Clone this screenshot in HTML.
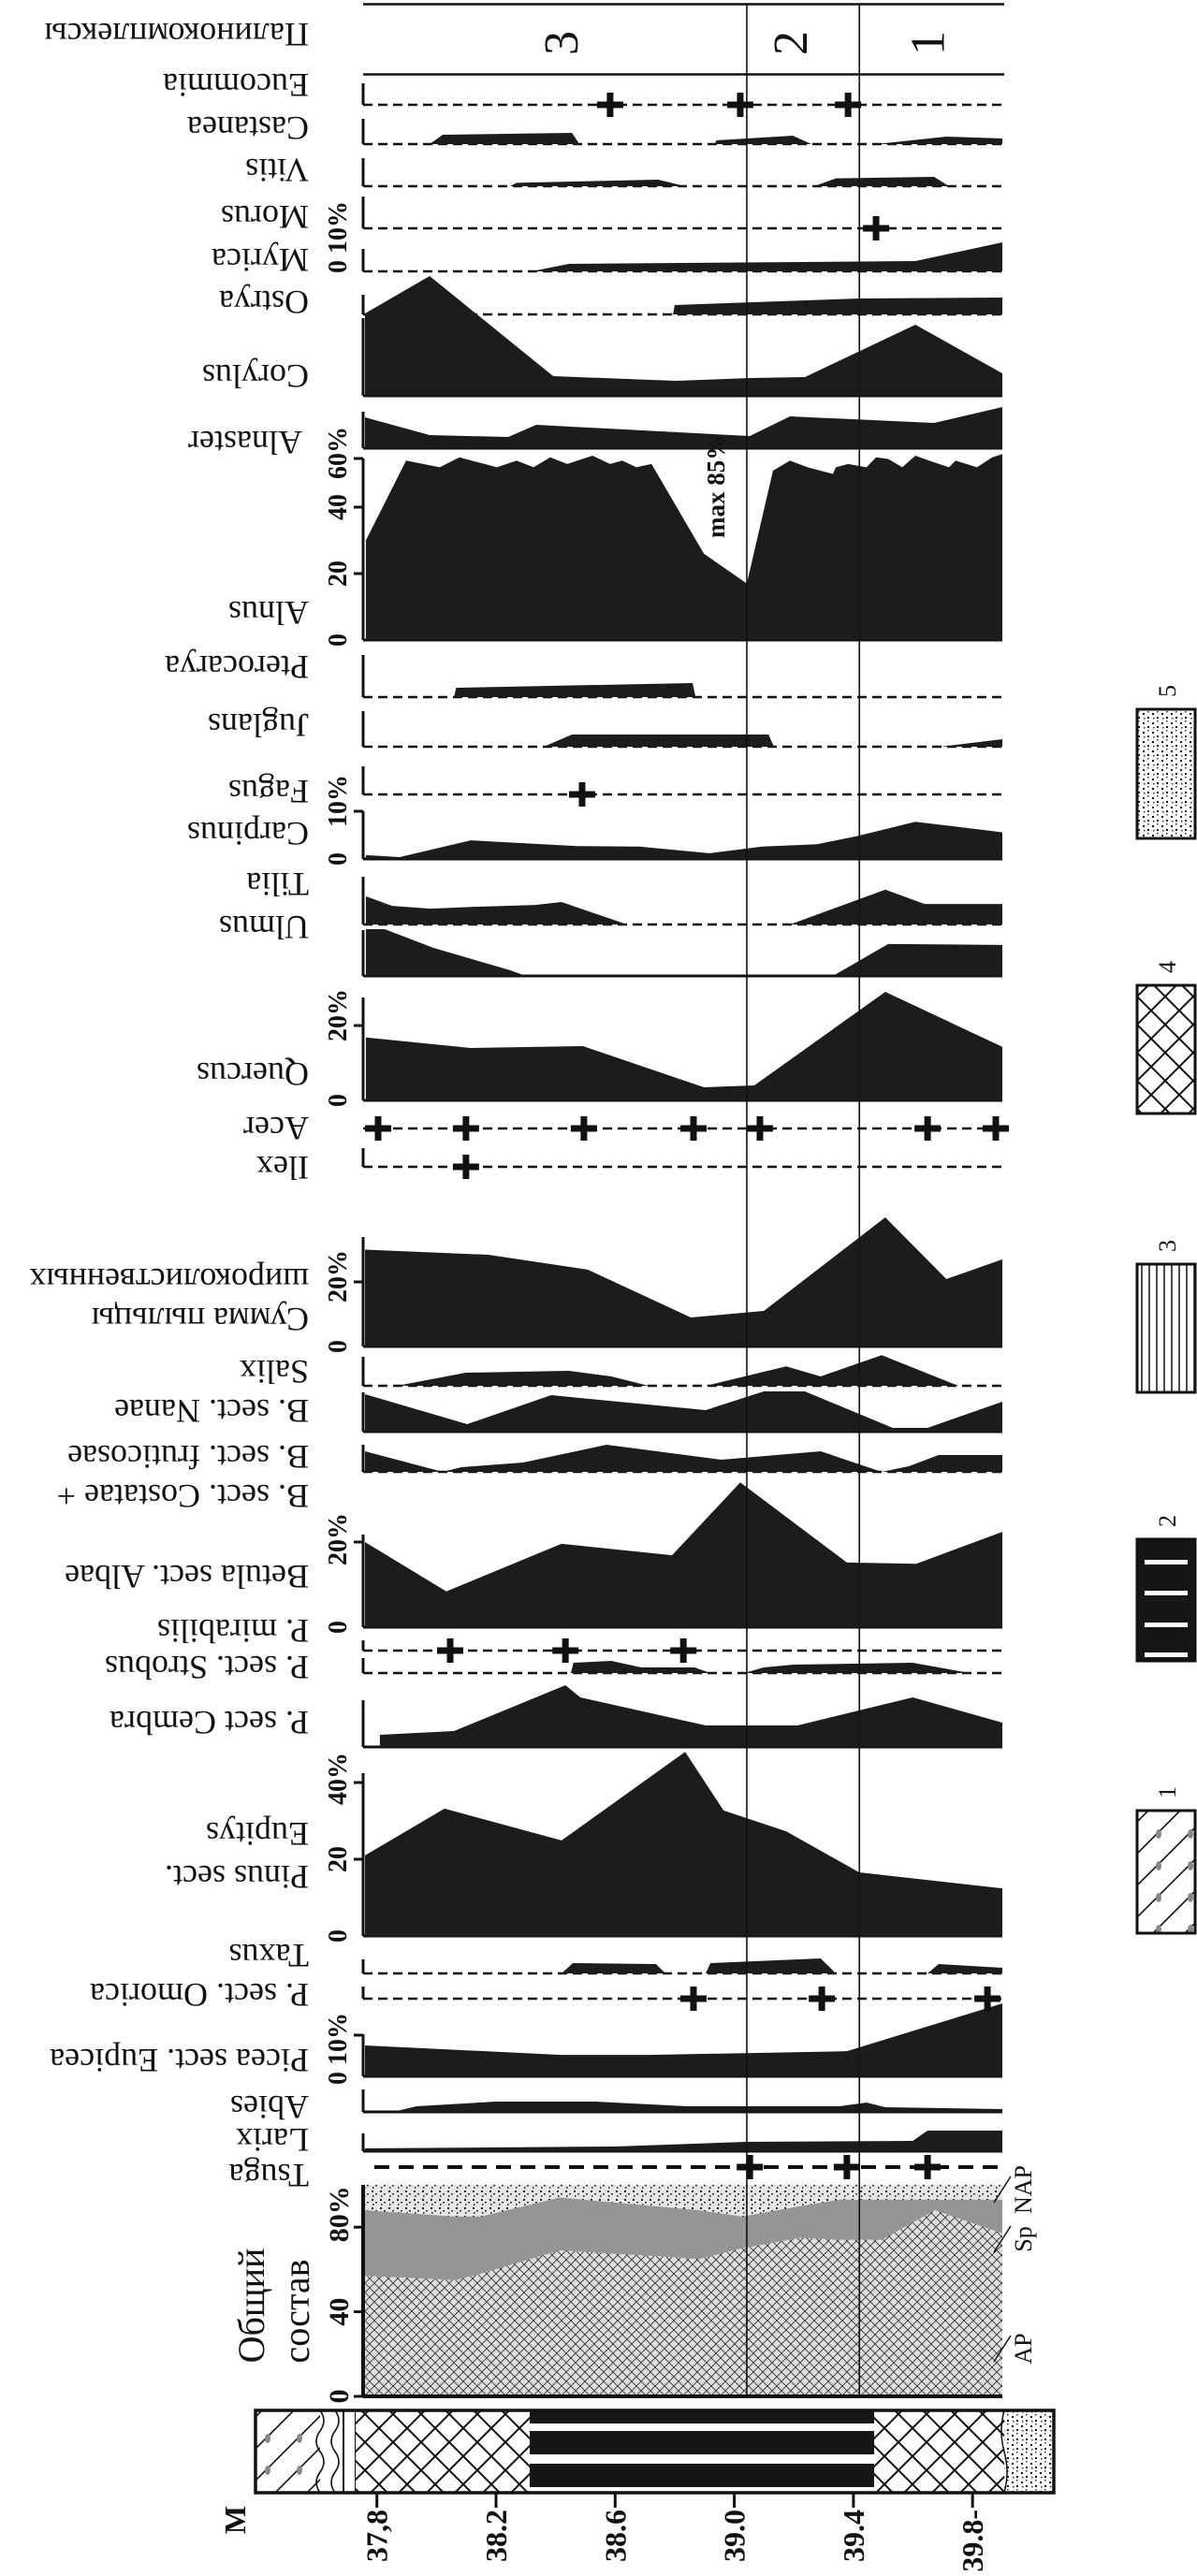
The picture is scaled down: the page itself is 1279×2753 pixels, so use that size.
<!DOCTYPE html>
<html><head><meta charset="utf-8"><title>Pollen diagram</title>
<style>
html,body{margin:0;padding:0;background:#fff;}
svg{display:block;}
text{font-family:"Liberation Serif","Noto Serif CJK SC",serif;fill:#111;}
</style></head>
<body>
<svg id="chart" xmlns="http://www.w3.org/2000/svg" width="1279" height="2753" viewBox="0 0 1279 2753">
<defs>
<pattern id="apPat" width="10" height="10" patternUnits="userSpaceOnUse">
<rect width="10" height="10" fill="#dedede"/>
<path d="M0,0 L10,10 M10,0 L0,10" stroke="#333" stroke-width="0.9"/>
</pattern>
<pattern id="napPat" width="9" height="9" patternUnits="userSpaceOnUse">
<rect width="9" height="9" fill="#e6e6e6"/>
<rect x="1" y="1" width="2" height="2" fill="#222"/><rect x="5" y="4" width="2" height="1.5" fill="#333"/><rect x="2" y="6" width="1.5" height="2" fill="#444"/>
</pattern>
<pattern id="xhPat" width="30" height="30" patternUnits="userSpaceOnUse">
<rect width="30" height="30" fill="#fff"/>
<path d="M0,0 L30,30 M30,0 L0,30" stroke="#111" stroke-width="2"/>
</pattern>
<pattern id="dotPat" width="10" height="10" patternUnits="userSpaceOnUse">
<rect width="10" height="10" fill="#fff"/>
<rect x="1" y="2" width="2" height="2" fill="#111"/><rect x="6" y="6" width="2" height="2" fill="#111"/><rect x="6" y="0" width="1.5" height="1.5" fill="#333"/><rect x="2" y="7" width="1.5" height="1.5" fill="#333"/>
</pattern>
<pattern id="diagPat" width="34" height="34" patternUnits="userSpaceOnUse">
<rect width="34" height="34" fill="#fff"/>
<path d="M0,34 L34,0 M-17,17 L17,-17 M17,51 L51,17" stroke="#111" stroke-width="1.6"/>
<ellipse cx="14" cy="22" rx="3" ry="5" fill="#888"/>
</pattern>
<pattern id="vlinePat" width="8" height="8" patternUnits="userSpaceOnUse">
<rect width="8" height="8" fill="#fff"/><path d="M4,0 L4,8" stroke="#111" stroke-width="1.5"/>
</pattern>
</defs>
<rect x="0" y="0" width="1279" height="2753" fill="#fff"/>
<g id="litho">
<rect x="273" y="2576" width="69" height="88" fill="url(#diagPat)"/>
<path d="M342,2576 q8,11 0,22 q-8,11 0,22 q8,11 0,22 q-8,11 0,22" stroke="#111" stroke-width="1.6" fill="none"/>
<path d="M358,2576 q8,11 0,22 q-8,11 0,22 q8,11 0,22 q-8,11 0,22" stroke="#111" stroke-width="1.6" fill="none"/>
<rect x="367" y="2576" width="13" height="88" fill="#fff" stroke="#111" stroke-width="2"/>
<rect x="380" y="2576" width="186" height="88" fill="url(#xhPat)"/>
<rect x="566" y="2576" width="368" height="88" fill="#161616"/>
<rect x="566" y="2590" width="368" height="8" fill="#fff"/>
<rect x="566" y="2623" width="368" height="10" fill="#fff"/>
<rect x="566" y="2658" width="368" height="6" fill="#fff"/>
<rect x="934" y="2576" width="139" height="88" fill="url(#xhPat)"/>
<rect x="1073" y="2576" width="53" height="88" fill="url(#dotPat)"/>
<path d="M1073,2576 q-6,22 0,44 q6,22 0,44" stroke="#111" stroke-width="1.5" fill="none"/>
<rect x="273" y="2576" width="853" height="88" fill="none" stroke="#111" stroke-width="3.5"/>
<text transform="translate(262,2693) rotate(-90)" text-anchor="middle" font-size="32" font-weight="bold">М</text>
</g>
<g id="legend">
<rect x="1215" y="758" width="62" height="138" fill="url(#dotPat)" stroke="#111" stroke-width="3"/>
<text transform="translate(1256,745) rotate(-90)" font-size="26">5</text>
<rect x="1215" y="1053" width="62" height="137" fill="url(#xhPat)" stroke="#111" stroke-width="3"/>
<text transform="translate(1256,1040) rotate(-90)" font-size="26">4</text>
<rect x="1215" y="1351" width="62" height="137" fill="url(#vlinePat)" stroke="#111" stroke-width="3"/>
<text transform="translate(1256,1338) rotate(-90)" font-size="26">3</text>
<rect x="1215" y="1645" width="62" height="130" fill="#161616" stroke="#111" stroke-width="3"/>
<rect x="1223" y="1667" width="46" height="5" fill="#fff"/>
<rect x="1223" y="1700" width="46" height="5" fill="#fff"/>
<rect x="1223" y="1734" width="46" height="5" fill="#fff"/>
<rect x="1223" y="1766" width="46" height="5" fill="#fff"/>
<text transform="translate(1256,1632) rotate(-90)" font-size="26">2</text>
<rect x="1215" y="1935" width="62" height="131" fill="url(#diagPat)" stroke="#111" stroke-width="3"/>
<text transform="translate(1256,1922) rotate(-90)" font-size="26">1</text>
</g>
<g id="plot"></g>
</svg>
<script>
// ---- depth axis ----
const depthTicks = [37.8, 38.2, 38.6, 39.0, 39.4, 39.8];
const depthTickLabels = ["37,8", "38.2", "38.6", "39.0", "39.4", "39.8-"];
const zoneBounds = [39.042, 39.42];
const zoneLabels = ["3", "2", "1"];
const zoneCenters = [38.42, 39.19, 39.65];

// ---- total composition (Общий состав) ----
const generalDepth = [37.76, 38.065, 38.15, 38.414, 38.882, 39.027, 39.224, 39.353, 39.495, 39.674, 39.9];
const apPct = [57, 55, 58, 69, 65, 70, 75, 74, 74, 88, 77];
const spPct = [31, 30, 27, 25, 23, 15, 15, 19, 19, 5, 16];

// ---- taxa ----
const castaneaDepth = [37.977, 38.021, 38.455, 38.48, 38.935, 38.94, 39.196, 39.259, 39.476, 39.712, 39.9];
const castaneaPct = [0, 2.5, 3, 0, 0, 1, 2.25, 0, 0, 2, 1.5];
const vitisDepth = [38.247, 38.269, 38.744, 38.835, 39.268, 39.341, 39.671, 39.721];
const vitisPct = [0, 0.9, 1.75, 0, 0, 2.1, 2.5, 0];
const myricaDepth = [38.319, 38.445, 39.608, 39.9];
const myricaPct = [0, 2, 2.75, 7.75];
const ostryaDepth = [38.794, 38.8, 39.42, 39.9];
const ostryaPct = [0, 2.5, 4.25, 4.5];
const corylusDepth = [37.76, 37.977, 38.392, 38.803, 39.052, 39.237, 39.608, 39.9];
const corylusPct = [22, 32, 5.25, 4, 4.75, 5, 19, 6];
const alnasterDepth = [37.76, 37.977, 38.241, 38.335, 39.052, 39.187, 39.671, 39.9];
const alnasterPct = [8.25, 3.5, 3, 6.25, 3.25, 8.5, 6.75, 11];
const alnusDepth = [37.763, 37.898, 38.011, 38.077, 38.203, 38.269, 38.326, 38.382, 38.439, 38.524, 38.583, 38.624, 38.671, 38.722, 38.898, 39.042, 39.13, 39.187, 39.246, 39.331, 39.341, 39.382, 39.444, 39.476, 39.517, 39.564, 39.608, 39.671, 39.721, 39.743, 39.815, 39.866, 39.9];
const alnusPct = [30, 54, 52, 55, 52, 54, 52, 55, 53, 55.5, 53, 54, 52, 53, 26, 17, 51, 54, 52, 50, 52, 53, 52, 55, 54.5, 52, 55.5, 53.5, 52, 54, 52, 55, 56];
const pterocaryaDepth = [38.059, 38.066, 38.86, 38.87];
const pterocaryaPct = [0, 2.5, 3.75, 0];
const juglansDepth = [38.36, 38.455, 39.115, 39.133, 39.693, 39.9];
const juglansPct = [0, 3.25, 3.25, 0, 0, 2];
const carpinusDepth = [37.763, 37.876, 38.115, 38.473, 38.681, 38.917, 39.093, 39.278, 39.413, 39.608, 39.9];
const carpinusPct = [0.8, 0.4, 3.9, 2.7, 2.6, 1.2, 2.6, 3.1, 4.8, 7.8, 5.6];
const tiliaDepth = [37.763, 37.851, 37.98, 38.125, 38.332, 38.42, 38.64, 39.187, 39.507, 39.639, 39.9];
const tiliaPct = [5.9, 3.9, 3.3, 3.7, 4.1, 4.7, 0, 0, 7.3, 4.3, 4.3];
const ulmusDepth = [37.763, 37.826, 37.989, 38.247, 38.3, 39.331, 39.517, 39.9];
const ulmusPct = [9.8, 9.8, 5.9, 1.2, 0, 0, 6.7, 6.5];
const quercusDepth = [37.763, 38.115, 38.492, 38.898, 39.067, 39.507, 39.9];
const quercusPct = [16.8, 14, 14.5, 3.5, 4, 29, 14.3];
const summaDepth = [37.76, 38.175, 38.508, 38.854, 39.099, 39.507, 39.712, 39.9];
const summaPct = [30, 28.4, 23.8, 9, 11, 40, 20.9, 27];
const salixDepth = [37.76, 37.867, 38.099, 38.445, 38.587, 38.712, 38.904, 39.174, 39.29, 39.495, 39.752, 39.9];
const salixPct = [0, 0, 3.5, 4, 2.5, 0, 0, 5.2, 2.5, 8.2, 0, 0];
const nanaeDepth = [37.76, 38.103, 38.385, 38.904, 39.099, 39.237, 39.532, 39.649, 39.9];
const nanaePct = [10, 2, 9.75, 5.75, 10.75, 10.75, 1, 1, 8];
const fruticosaeDepth = [37.76, 38.021, 38.084, 38.291, 38.571, 38.957, 39.29, 39.495, 39.586, 39.686, 39.9];
const fruticosaePct = [5.5, 0, 1.25, 2.5, 7.25, 3.25, 5.5, 0, 1.5, 4.5, 4.5];
const albaeDepth = [37.76, 38.033, 38.42, 38.791, 39.02, 39.378, 39.611, 39.9];
const albaePct = [20, 8.4, 19.6, 16.9, 34, 15.2, 14.9, 22.4];
const strobusDepth = [38.451, 38.46, 38.587, 38.687, 38.866, 38.92, 39.033, 39.099, 39.199, 39.599, 39.79];
const strobusPct = [0, 2.75, 3.25, 1.5, 1.5, 0, 0, 1.5, 2.25, 2.75, 0];
const cembraDepth = [37.81, 38.059, 38.433, 38.483, 38.904, 39.212, 39.599, 39.9];
const cembraPct = [3.25, 4.25, 16.5, 13.25, 5.75, 5.75, 13.25, 6.5];
const pinusDepth = [37.76, 38.027, 38.42, 38.835, 38.964, 39.174, 39.419, 39.9];
const pinusPct = [21, 33.2, 24.9, 48, 32.7, 27.3, 16.6, 12.4];
const taxusDepth = [38.42, 38.458, 38.737, 38.769, 38.904, 38.92, 39.29, 39.341, 39.649, 39.686, 39.9];
const taxusPct = [0, 2.75, 2.5, 0, 0, 2.75, 4, 0, 0, 2.5, 1.5];
const piceaDepth = [37.76, 38.42, 38.712, 39.378, 39.9];
const piceaPct = [7.5, 5.2, 5.2, 6.1, 17.7];
const abiesDepth = [37.76, 37.854, 37.933, 38.2, 38.533, 38.841, 39.353, 39.444, 39.507, 39.9];
const abiesPct = [0, 0, 1.5, 2.75, 2.75, 1.5, 1.5, 2.5, 1.25, 0.75];
const larixDepth = [37.76, 38.6, 39.04, 39.599, 39.649, 39.9];
const larixPct = [0.75, 1.25, 2.5, 2.75, 5.5, 5.5];

// ---- single-grain finds (+) ----
const eucommiaPlus = [38.583, 39.02, 39.382];
const morusPlus = [39.476];
const fagusPlus = [38.489];
const acerPlus = [37.804, 38.099, 38.495, 38.863, 39.086, 39.649, 39.878];
const ilexPlus = [38.099];
const mirabilisPlus = [38.046, 38.433, 38.829];
const omoricaPlus = [38.863, 39.294, 39.85];
const tsugaPlus = [39.052, 39.378, 39.649];

const NS = "http://www.w3.org/2000/svg";
const plot = document.getElementById("plot");
const X0 = 390, X1 = 1071, D0 = 37.76, D1 = 39.9, AX = 388;
function xs(d) { return X0 + (d - D0) * (X1 - X0) / (D1 - D0); }
function mk(tag, attrs) {
  const e = document.createElementNS(NS, tag);
  for (const k in attrs) e.setAttribute(k, attrs[k]);
  plot.appendChild(e);
  return e;
}

// general composition chart
const G0 = 2561, GK = 2.26;
function gy(p) { return G0 - p * GK; }
const napRect = mk("rect", {x: X0, y: gy(100), width: X1 - X0, height: 100 * GK, fill: "url(#napPat)"});


let spPts = generalDepth.map((d, i) => xs(d) + "," + gy(apPct[i] + spPct[i]));
let apTopRev = generalDepth.map((d, i) => xs(d) + "," + gy(apPct[i])).reverse();
const spPoly = mk("polygon", {points: spPts.concat(apTopRev).join(" "), fill: "#959595"});


let apPts = [xs(generalDepth[0]) + "," + G0].concat(generalDepth.map((d, i) => xs(d) + "," + gy(apPct[i]))).concat([xs(generalDepth[generalDepth.length - 1]) + "," + G0]);
const apPoly = mk("polygon", {points: apPts.join(" "), fill: "url(#apPat)"});


const gAxis = mk("line", {x1: AX, y1: gy(100), x2: AX, y2: G0, stroke: "#111", "stroke-width": 4});


const gBase = mk("line", {x1: AX, y1: G0, x2: X1, y2: G0, stroke: "#111", "stroke-width": 4});


const gTicks = [0, 40, 80];
const gTickText = ["0", "40", "80%"];
gTicks.forEach((v, i) => {
  const t = mk("line", {x1: AX - 10, y1: gy(v), x2: AX, y2: gy(v), stroke: "#111", "stroke-width": 3});
  
  
  const lb = mk("text", {transform: `translate(372,${gy(v) + (i === 2 ? 16 : 0)}) rotate(-90)`, "text-anchor": i === 2 ? "start" : "middle", "font-size": 30, "font-weight": "bold"});
  lb.textContent = gTickText[i];
  
  
});
const apLabels = [["NAP", 2340], ["Sp", 2393], ["AP", 2510]];
apLabels.forEach(a => {
  const t = mk("text", {transform: `translate(1102,${a[1]}) rotate(-90)`, "text-anchor": "middle", "font-size": 26});
  t.textContent = a[0];
  
  
  const s = mk("line", {x1: 1062, y1: a[1] + 14, x2: 1080, y2: a[1] - 14, stroke: "#111", "stroke-width": 1.5});
  
  
});
const title1 = mk("text", {transform: "translate(282,2464) rotate(-90)", "text-anchor": "middle", "font-size": 40});
title1.textContent = "Общий";


const title2 = mk("text", {transform: "translate(330,2470) rotate(-90)", "text-anchor": "middle", "font-size": 40});
title2.textContent = "состав";



// taxon area panels
const panels = [
  {name: "castanea", base: 154, top: 127, k: 4, dep: castaneaDepth, val: castaneaPct, solid: false},
  {name: "vitis", base: 199, top: 169, k: 4, dep: vitisDepth, val: vitisPct, solid: false},
  {name: "myrica", base: 290, top: 266, k: 4, dep: myricaDepth, val: myricaPct, solid: false},
  {name: "ostrya", base: 336, top: 315, k: 4, dep: ostryaDepth, val: ostryaPct, solid: false},
  {name: "corylus", base: 423, top: 340, k: 4, dep: corylusDepth, val: corylusPct, solid: true},
  {name: "alnaster", base: 479, top: 440, k: 4, dep: alnasterDepth, val: alnasterPct, solid: true},
  {name: "alnus", base: 684, top: 490, k: 3.55, dep: alnusDepth, val: alnusPct, solid: true},
  {name: "pterocarya", base: 745, top: 700, k: 4, dep: pterocaryaDepth, val: pterocaryaPct, solid: false},
  {name: "juglans", base: 798, top: 760, k: 4, dep: juglansDepth, val: juglansPct, solid: false},
  {name: "carpinus", base: 918, top: 867, k: 5.1, dep: carpinusDepth, val: carpinusPct, solid: true},
  {name: "tilia", base: 988, top: 937, k: 5.1, dep: tiliaDepth, val: tiliaPct, solid: false},
  {name: "ulmus", base: 1043, top: 994, k: 5.1, dep: ulmusDepth, val: ulmusPct, solid: true},
  {name: "quercus", base: 1176, top: 1066, k: 4, dep: quercusDepth, val: quercusPct, solid: true},
  {name: "broadleaf-sum", base: 1439, top: 1322, k: 3.45, dep: summaDepth, val: summaPct, solid: true},
  {name: "salix", base: 1481, top: 1450, k: 4, dep: salixDepth, val: salixPct, solid: false},
  {name: "betula-nanae", base: 1530, top: 1488, k: 4, dep: nanaeDepth, val: nanaePct, solid: true},
  {name: "betula-fruticosae", base: 1573, top: 1544, k: 4, dep: fruticosaeDepth, val: fruticosaePct, solid: false},
  {name: "betula-albae", base: 1739, top: 1640, k: 4.55, dep: albaeDepth, val: albaePct, solid: true},
  {name: "pinus-strobus", base: 1788, top: 1772, k: 4, dep: strobusDepth, val: strobusPct, solid: false},
  {name: "pinus-cembra", base: 1867, top: 1817, k: 4, dep: cembraDepth, val: cembraPct, solid: true},
  {name: "pinus-eupitys", base: 2069, top: 1895, k: 4.1, dep: pinusDepth, val: pinusPct, solid: true},
  {name: "taxus", base: 2109, top: 2094, k: 4, dep: taxusDepth, val: taxusPct, solid: false},
  {name: "picea-eupicea", base: 2219, top: 2174, k: 4.4, dep: piceaDepth, val: piceaPct, solid: true},
  {name: "abies", base: 2257, top: 2233, k: 4, dep: abiesDepth, val: abiesPct, solid: true},
  {name: "larix", base: 2299, top: 2280, k: 4, dep: larixDepth, val: larixPct, solid: true}
];
panels.forEach(p => {
  const bl = mk("line", {x1: AX, y1: p.base, x2: X1, y2: p.base, stroke: "#111", "stroke-width": p.solid ? 3 : 2.5, "stroke-dasharray": p.solid ? "none" : "10 6"});
  
  
  const pts = [xs(p.dep[0]) + "," + p.base];
  p.dep.forEach((d, i) => pts.push(xs(d) + "," + (p.base - p.val[i] * p.k)));
  pts.push(xs(p.dep[p.dep.length - 1]) + "," + p.base);
  const poly = mk("polygon", {points: pts.join(" "), fill: "#1c1c1c"});
  
  
  const ax = mk("line", {x1: AX, y1: p.top, x2: AX, y2: p.base, stroke: "#111", "stroke-width": 3});
  
  
});

// dashed presence-only rows
const dashRows = [
  {name: "eucommia", y: 112, top: 89, plus: eucommiaPlus},
  {name: "morus", y: 244, top: 210, plus: morusPlus},
  {name: "fagus", y: 849, top: 819, plus: fagusPlus},
  {name: "acer", y: 1206, top: null, plus: acerPlus},
  {name: "ilex", y: 1247, top: 1227, plus: ilexPlus},
  {name: "pinus-mirabilis", y: 1764, top: 1753, plus: mirabilisPlus},
  {name: "picea-omorica", y: 2136, top: 2123, plus: omoricaPlus},
  {name: "tsuga", y: 2316, top: null, plus: tsugaPlus}
];
dashRows.forEach(r => {
  const thick = r.name === "tsuga";
  const bl = mk("line", {x1: thick ? 400 : AX, y1: r.y, x2: X1, y2: r.y, stroke: "#111", "stroke-width": thick ? 4 : 2.5, "stroke-dasharray": thick ? "16 10" : "10 6"});
  
  
  if (r.top !== null) {
    const ax = mk("line", {x1: AX, y1: r.top, x2: AX, y2: r.y, stroke: "#111", "stroke-width": 3});
    
    
  }
  r.plus.forEach(d => {
    const x = xs(d);
    const h = mk("rect", {x: x - 14, y: r.y - 3.5, width: 28, height: 7, fill: "#111"});
    
    
    const v = mk("rect", {x: x - 3.5, y: r.y - 13, width: 7, height: 26, fill: "#111"});
    
    
  });
});

// scale labels on panels
const scaleLabels = [
  {y: 292, txt: "0 10%", anchor: "start"},
  {y: 684, txt: "0", anchor: "middle"}, {y: 613, txt: "20", anchor: "middle"}, {y: 542, txt: "40", anchor: "middle"}, {y: 512, txt: "60%", anchor: "start"},
  {y: 918, txt: "0", anchor: "middle"}, {y: 884, txt: "10%", anchor: "start"},
  {y: 1176, txt: "0", anchor: "middle"}, {y: 1113, txt: "20%", anchor: "start"},
  {y: 1439, txt: "0", anchor: "middle"}, {y: 1392, txt: "20%", anchor: "start"},
  {y: 1739, txt: "0", anchor: "middle"}, {y: 1673, txt: "20%", anchor: "start"},
  {y: 2069, txt: "0", anchor: "middle"}, {y: 1987, txt: "20", anchor: "middle"}, {y: 1929, txt: "40%", anchor: "start"},
  {y: 2228, txt: "0 10%", anchor: "start"}
];
scaleLabels.forEach(s => {
  const t = mk("text", {transform: `translate(370,${s.y}) rotate(-90)`, "text-anchor": s.anchor, "font-size": 28, "font-weight": "bold"});
  t.textContent = s.txt;
  
  
});
const scaleTicks = [613, 542, 490, 867, 1096, 1370, 1648, 1987, 1905, 2175];
scaleTicks.forEach(y => {
  const t = mk("line", {x1: AX - 10, y1: y, x2: AX, y2: y, stroke: "#111", "stroke-width": 3});
  
  
});

const maxLbl = mk("text", {transform: "translate(774,575) rotate(-90)", "font-size": 27, "font-family": "Liberation Sans, sans-serif", "font-weight": "bold"});
maxLbl.textContent = "max 85%";



// taxon names (rotated 180°)
const taxonNames = ["Палинокомплексы", "Eucommia", "Castanea", "Vitis", "Morus", "Myrica", "Ostrya", "Corylus", "Alnaster", "Alnus", "Pterocarya", "Juglans", "Fagus", "Carpinus", "Tilia", "Ulmus", "Quercus", "Acer", "Ilex", "широколиственных", "Сумма пыльцы", "Salix", "B. sect. Nanae", "B. sect. fruticosae", "B. sect. Costatae +", "Betula sect. Albae", "P. mirabilis", "P. sect. Strobus", "P. sect Cembra", "Eupitys", "Pinus sect.", "Taxus", "P. sect. Omorica", "Picea sect. Eupicea", "Abies", "Larix", "Tsuga"];
const taxonNameY = [37, 91, 137, 182, 232, 278, 323, 402, 473, 655, 713, 775, 846, 891, 945, 991, 1148, 1206, 1248, 1368, 1410, 1466, 1508, 1557, 1599, 1685, 1743, 1782, 1841, 1960, 2006, 2090, 2132, 2202, 2252, 2287, 2325];
taxonNames.forEach((n, i) => {
  const x = n === "Alnaster" ? 323 : 330;
  const yb = taxonNameY[i] - 12;
  const t = mk("text", {transform: `rotate(180 ${x} ${yb})`, x: x, y: yb, "font-size": 36});
  t.textContent = n;
  
  
});

// zone frame and lines
[4.5, 79.5].forEach(y => {
  const l = mk("line", {x1: AX, y1: y, x2: 1073, y2: y, stroke: "#111", "stroke-width": 2.5});
  
  
});
zoneBounds.forEach(d => {
  const l = mk("line", {x1: xs(d), y1: 4, x2: xs(d), y2: G0, stroke: "#111", "stroke-width": 1.6});
  
  
});
zoneLabels.forEach((z, i) => {
  const t = mk("text", {transform: `translate(${xs(zoneCenters[i]) + 17},46) rotate(-90)`, "text-anchor": "middle", "font-size": 52});
  t.textContent = z;
  
  
});

// depth ticks
depthTicks.forEach((d, i) => {
  const x = xs(d);
  const l = mk("line", {x1: x, y1: 2664, x2: x, y2: 2680, stroke: "#111", "stroke-width": 3});
  
  
  const t = mk("text", {transform: `translate(${x + 11},2682) rotate(-90)`, "text-anchor": "end", "font-size": 32, "font-weight": "bold"});
  t.textContent = depthTickLabels[i];
  
  
});
</script>
</body></html>
